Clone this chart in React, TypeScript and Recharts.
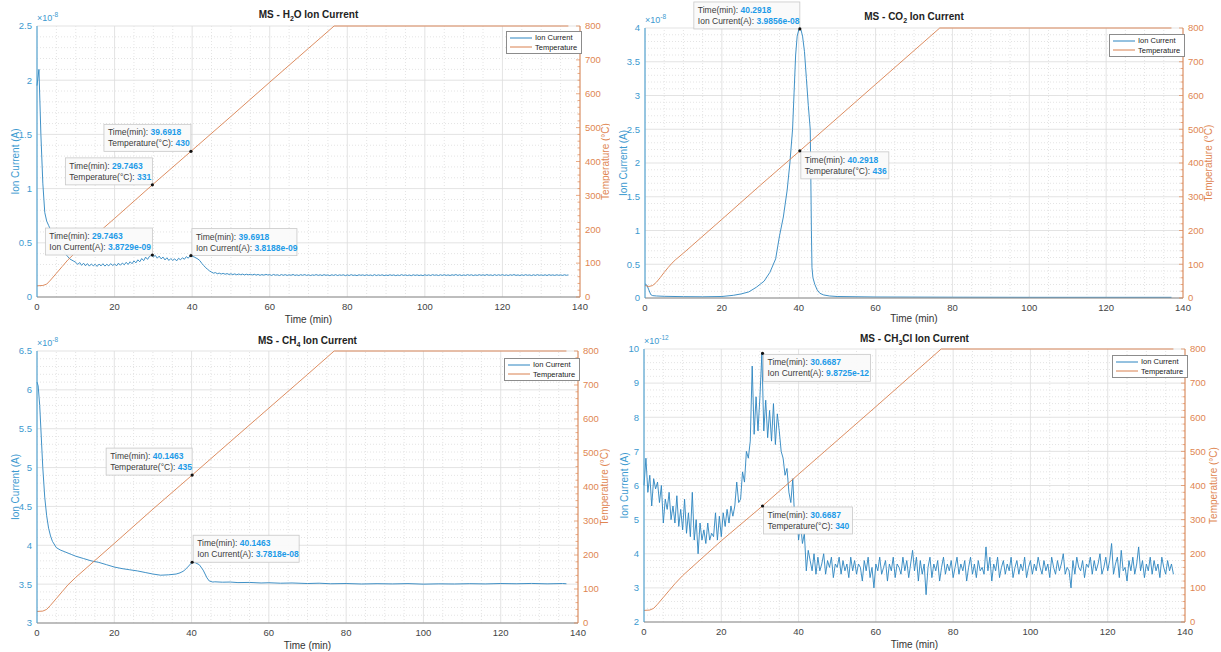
import React from 'react';
import {
  LineChart,
  Line,
  XAxis,
  YAxis,
  CartesianGrid,
  ReferenceLine,
  ReferenceDot,
  Legend,
} from 'recharts';

const FONT = 'Arial, "Liberation Sans", Helvetica, sans-serif';
const BLUE_LINE = '#2b84c0';
const BLUE_AXIS = '#3d9ad0';
const ORANGE_LINE = '#d9804f';
const ORANGE_AXIS = '#e08652';
const TIP_BLUE = '#1d9be8';

// shared axes
const TIME_TICKS = [0, 20, 40, 60, 80, 100, 120, 140];
const TEMP_TICKS = [0, 100, 200, 300, 400, 500, 600, 700, 800];

// ion current sampled every 0.5 min (H2O in 1e-8 A, CH3Cl in 1e-12 A)
const SAMPLE_STEP = 0.5;

const H2O_ION = [
  1.95, 2.1, 1.5, 1.05, 0.78, 0.7, 0.66, 0.62, 0.58, 0.55,
  0.5, 0.48, 0.46, 0.44, 0.42, 0.39, 0.37, 0.35, 0.34, 0.33,
  0.32, 0.3, 0.318, 0.292, 0.312, 0.288, 0.308, 0.285, 0.305, 0.288,
  0.302, 0.282, 0.304, 0.287, 0.307, 0.285, 0.302, 0.287, 0.308, 0.29,
  0.305, 0.287, 0.312, 0.293, 0.313, 0.297, 0.32, 0.3, 0.325, 0.307,
  0.333, 0.315, 0.343, 0.325, 0.355, 0.335, 0.368, 0.347, 0.375, 0.385,
  0.37, 0.384, 0.358, 0.377, 0.352, 0.368, 0.342, 0.362, 0.337, 0.355,
  0.338, 0.352, 0.333, 0.357, 0.343, 0.362, 0.348, 0.372, 0.358, 0.382,
  0.375, 0.37, 0.36, 0.35, 0.335, 0.31, 0.29, 0.27, 0.255, 0.24,
  0.23, 0.22, 0.225, 0.215, 0.22, 0.212, 0.218, 0.21, 0.216, 0.208,
  0.214, 0.207, 0.213, 0.205, 0.212, 0.206, 0.211, 0.204, 0.21, 0.205,
  0.209, 0.203, 0.21, 0.202, 0.208, 0.2, 0.207, 0.201, 0.209, 0.203,
  0.206, 0.199, 0.208, 0.201, 0.205, 0.198, 0.207, 0.2, 0.206, 0.199,
  0.205, 0.2, 0.208, 0.199, 0.204, 0.198, 0.206, 0.2, 0.207, 0.199,
  0.205, 0.198, 0.204, 0.2, 0.207, 0.199, 0.205, 0.198, 0.206, 0.2,
  0.204, 0.197, 0.205, 0.199, 0.206, 0.198, 0.204, 0.2, 0.205, 0.197,
  0.204, 0.198, 0.206, 0.199, 0.203, 0.197, 0.205, 0.2, 0.204, 0.198,
  0.205, 0.199, 0.203, 0.197, 0.206, 0.198, 0.204, 0.199, 0.205, 0.197,
  0.203, 0.198, 0.205, 0.199, 0.204, 0.197, 0.203, 0.198, 0.206, 0.199,
  0.204, 0.198, 0.203, 0.197, 0.205, 0.199, 0.204, 0.198, 0.203, 0.197,
  0.205, 0.199, 0.204, 0.198, 0.206, 0.2, 0.204, 0.198, 0.205, 0.199,
  0.206, 0.199, 0.204, 0.198, 0.205, 0.2, 0.207, 0.199, 0.205, 0.198,
  0.204, 0.199, 0.206, 0.2, 0.205, 0.198, 0.204, 0.199, 0.206, 0.2,
  0.205, 0.199, 0.207, 0.2, 0.204, 0.198, 0.206, 0.199, 0.205, 0.2,
  0.206, 0.199, 0.204, 0.198, 0.205, 0.2, 0.207, 0.199, 0.204, 0.198,
  0.205, 0.199, 0.206, 0.2, 0.204, 0.198, 0.205, 0.199, 0.206, 0.2,
  0.204, 0.199, 0.205, 0.198, 0.206, 0.2, 0.204, 0.199, 0.205, 0.2,
  0.204, 0.199, 0.205, 0.2, 0.204,
];

const CH3CL_ION = [
  6.0, 6.8, 5.8, 6.3, 5.4, 6.2, 5.9, 6.1, 5.5, 6.0,
  4.9, 5.6, 5.3, 5.8, 5.0, 5.4, 4.9, 5.7, 4.8, 5.3,
  4.7, 5.6, 4.6, 5.2, 4.5, 5.8, 4.4, 5.0, 4.0, 4.9,
  4.4, 4.7, 4.3, 4.9, 4.4, 4.6, 4.5, 5.2, 4.4, 5.1,
  4.5, 5.2, 4.8, 5.3, 4.9, 5.4, 5.1, 5.4, 6.1, 5.5,
  5.6, 6.4, 6.1, 7.0, 6.8, 7.3, 9.5, 7.5, 8.6, 7.6,
  8.6, 9.87, 7.6, 8.5, 7.4, 8.2, 7.3, 8.4, 7.2, 8.1,
  7.6, 7.0, 6.8, 6.3, 6.5, 5.8, 5.5, 6.2, 5.0, 5.3,
  4.4, 4.9, 4.3, 4.6, 3.5, 4.1, 3.8, 3.5, 4.0, 3.4,
  3.9, 3.5, 3.7, 4.0, 3.4, 3.8, 3.6, 3.9, 3.3, 3.7,
  3.6, 3.9, 3.4, 3.8, 3.5, 3.7, 3.3, 3.9, 3.5, 3.8,
  3.4, 3.7, 3.6, 3.2, 3.8, 3.5, 3.9, 3.3, 3.6, 3.0,
  3.7, 3.5, 3.9, 3.4, 3.6, 3.8, 3.2, 3.7, 3.5, 3.9,
  3.3, 3.7, 3.6, 3.4, 3.9, 3.5, 3.8, 3.3, 3.7, 4.1,
  3.5, 3.9, 3.2, 3.8, 3.4, 3.7, 2.8, 3.6, 3.9, 3.3,
  3.7, 3.5, 3.8, 3.2, 3.6, 3.9, 3.4, 3.7, 3.5, 3.8,
  3.3, 3.6, 3.9, 3.4, 3.7, 3.5, 3.8, 3.2, 3.6, 3.9,
  3.4, 3.7, 3.3, 3.8, 3.5, 3.6, 3.4, 4.2, 3.5, 3.9,
  3.2, 3.7, 3.5, 3.9, 3.3, 3.6, 3.8, 3.4, 3.7, 3.5,
  3.9, 3.3, 3.6, 3.8, 3.4, 3.7, 3.5, 3.9, 3.3, 3.6,
  3.8, 3.4, 3.7, 3.5, 3.9, 3.6, 3.4, 3.8, 3.5, 3.7,
  3.3, 3.9, 3.6, 3.4, 3.8, 3.5, 3.7, 4.0, 3.4, 3.6,
  3.5, 3.0, 3.8, 3.4, 3.9, 3.6, 3.5, 3.8, 3.3, 3.7,
  3.6, 3.9, 3.4, 3.8, 3.5, 3.7, 4.0, 3.4, 3.6, 3.9,
  3.5, 3.8, 4.3, 3.4, 3.7, 3.9, 3.3, 4.1, 3.5, 3.6,
  3.2, 3.8, 3.5, 3.9, 3.4, 3.7, 4.2, 3.5, 3.8, 3.3,
  3.7, 3.5, 3.9, 3.4, 3.8, 3.5, 3.7, 3.3, 3.9, 3.6,
  3.4, 3.8, 3.5, 3.7, 3.4,
];

// smooth series as [time, value] (CO2 and CH4 in 1e-8 A)
const CO2_ION = [
  [0, 0.21], [0.5, 0.19], [1, 0.12], [1.5, 0.05], [2, 0.035], [3, 0.03], [5, 0.025],
  [10, 0.02], [15, 0.018], [20, 0.022], [23, 0.04], [25, 0.06], [27, 0.09], [29, 0.16],
  [31, 0.25], [32.5, 0.38], [34, 0.58], [35, 0.92], [36, 1.2], [37, 1.6], [37.7, 2.0],
  [38.4, 2.5], [38.8, 3.05], [39.2, 3.6], [39.6, 3.88], [40, 3.97], [40.2918, 3.9856],
  [40.6, 3.97], [41, 3.88], [41.5, 3.65], [42, 3.25], [42.5, 2.85], [43, 2.5], [43.15, 1.8],
  [43.3, 1.0], [43.45, 0.45], [43.7, 0.3], [44.2, 0.2], [44.8, 0.12], [45.5, 0.07],
  [46.5, 0.045], [48, 0.03], [50, 0.022], [60, 0.015], [80, 0.012], [100, 0.01],
  [120, 0.01], [137, 0.01],
];

const CH4_ION = [
  [0, 6.1], [0.3, 6.05], [0.7, 5.8], [1, 5.5], [1.5, 5.0], [2, 4.62], [2.5, 4.38],
  [3, 4.22], [3.5, 4.12], [4, 4.05], [5, 3.97], [6, 3.94], [7, 3.92], [8, 3.9], [9, 3.88],
  [10, 3.86], [12, 3.83], [14, 3.8], [16, 3.78], [18, 3.75], [20, 3.72], [22, 3.7],
  [24, 3.685], [26, 3.67], [28, 3.65], [30, 3.63], [32, 3.615], [34, 3.62], [36, 3.63],
  [37, 3.645], [38, 3.67], [39, 3.72], [40.1463, 3.7818], [41, 3.775], [42, 3.75],
  [43, 3.68], [44, 3.58], [44.6, 3.54], [45.5, 3.527], [46, 3.53], [48, 3.525],
  [50, 3.527], [52, 3.52], [55, 3.522], [58, 3.515], [60, 3.518], [63, 3.512], [66, 3.515],
  [70, 3.508], [73, 3.512], [76, 3.505], [80, 3.508], [84, 3.502], [88, 3.506],
  [92, 3.503], [96, 3.507], [100, 3.5], [104, 3.504], [108, 3.502], [112, 3.506],
  [116, 3.503], [120, 3.508], [124, 3.505], [128, 3.509], [132, 3.504], [136, 3.508],
  [137, 3.505],
];

// temperature (°C) as [time, value]
const H2O_TEMP = [
  [0, 33], [1.5, 34], [2.5, 38], [3.5, 50], [5, 70], [6.5, 90], [8, 110], [10, 132],
  [20, 232], [29.7463, 331], [39.6918, 430], [50, 533], [60, 634], [70, 734],
  [76.6, 800], [137, 800],
];
const CO2_TEMP = [
  [0, 37], [1, 34], [2, 37], [3, 47], [4, 61], [5, 76], [6, 90], [7, 103], [8, 114],
  [10, 133], [20, 233], [30, 334], [40.2918, 436], [50, 533], [60, 633], [70, 733],
  [76.7, 800], [137, 800],
];
const CH4_TEMP = [
  [0, 34], [1.5, 35], [2.5, 40], [3.5, 52], [5, 72], [6.5, 92], [8, 112], [10, 134],
  [20, 234], [30, 335], [40.1463, 435], [50, 533], [60, 632], [70, 731], [76.9, 800],
  [137, 800],
];
const CH3CL_TEMP = [
  [0, 34], [1.5, 35], [2.5, 40], [3.5, 52], [5, 72], [6.5, 92], [8, 112], [10, 136],
  [20, 238], [30.6687, 340], [40, 433], [50, 532], [60, 631], [70, 731], [76.9, 800],
  [137, 800],
];

// data tips
const H2O_TIPS = [
  { t: 39.6918, v: 430, axis: 'temp', label: 'Temperature(°C)', time: '39.6918', text: '430' },
  { t: 29.7463, v: 331, axis: 'temp', label: 'Temperature(°C)', time: '29.7463', text: '331' },
  { t: 29.7463, v: 0.38729, axis: 'ion', label: 'Ion Current(A)', time: '29.7463', text: '3.8729e-09' },
  { t: 39.6918, v: 0.38188, axis: 'ion', label: 'Ion Current(A)', time: '39.6918', text: '3.8188e-09' },
];
const CO2_TIPS = [
  { t: 40.2918, v: 3.9856, axis: 'ion', label: 'Ion Current(A)', time: '40.2918', text: '3.9856e-08' },
  { t: 40.2918, v: 436, axis: 'temp', label: 'Temperature(°C)', time: '40.2918', text: '436' },
];
const CH4_TIPS = [
  { t: 40.1463, v: 435, axis: 'temp', label: 'Temperature(°C)', time: '40.1463', text: '435' },
  { t: 40.1463, v: 3.7818, axis: 'ion', label: 'Ion Current(A)', time: '40.1463', text: '3.7818e-08' },
];
const CH3CL_TIPS = [
  { t: 30.6687, v: 9.8725, axis: 'ion', label: 'Ion Current(A)', time: '30.6687', text: '9.8725e-12' },
  { t: 30.6687, v: 340, axis: 'temp', label: 'Temperature(°C)', time: '30.6687', text: '340' },
];

// minor tick values between majors
const minorTicks = (lo: number, hi: number, step: number, major: number) => {
  const out: number[] = [];
  const n = Math.round((hi - lo) / step);
  for (let i = 1; i < n; i++) {
    const v = +(lo + i * step).toFixed(4);
    const r = (v - lo) / major;
    if (Math.abs(r - Math.round(r)) > 1e-6) out.push(v);
  }
  return out;
};
const allTicks = (major: number[], minor: number[]) => [...major, ...minor].sort((a, b) => a - b);

const TIME_MINOR = minorTicks(0, 140, 5, 20);
const TIME_ALL = allTicks(TIME_TICKS, TIME_MINOR);
const TEMP_ALL = allTicks(TEMP_TICKS, minorTicks(0, 800, 20, 100));

const fromSamples = (vals: number[]) => vals.map((v, i) => ({ t: i * SAMPLE_STEP, v }));
const fromPairs = (pairs: number[][]) => pairs.map(([t, v]) => ({ t, v }));

const PANELS = [
  {
    key: 'h2o', x: 0, y: 0,
    plot: { l: 37, r: 580, t: 26, b: 297 },
    title: ['MS - H', '2', 'O Ion Current'], titleY: 17.5,
    exponent: '-8',
    ion: fromSamples(H2O_ION), temp: fromPairs(H2O_TEMP),
    ionDomain: [0, 2.5], ionTicks: [0, 0.5, 1, 1.5, 2, 2.5], ionMinor: minorTicks(0, 2.5, 0.1, 0.5),
    tips: H2O_TIPS,
    tipLayout: [{ side: 'ul', w: 87 }, { side: 'ul', w: 87 }, { side: 'ul', w: 107 }, { side: 'ur', w: 105 }],
    ionLabelX: 15, tempLabelOff: 5, xLabelOff: 3,
    legend: { left: 506, top: 31 },
  },
  {
    key: 'co2', x: 610, y: 0,
    plot: { l: 35, r: 573, t: 28, b: 298 },
    title: ['MS - CO', '2', ' Ion Current'], titleY: 20,
    exponent: '-8',
    ion: fromPairs(CO2_ION), temp: fromPairs(CO2_TEMP),
    ionDomain: [0, 4], ionTicks: [0, 0.5, 1, 1.5, 2, 2.5, 3, 3.5, 4], ionMinor: minorTicks(0, 4, 0.1, 0.5),
    tips: CO2_TIPS,
    tipLayout: [{ side: 'ul', w: 106 }, { side: 'lr', w: 88 }],
    ionLabelX: 13, tempLabelOff: 12, xLabelOff: 4,
    legend: { left: 499, top: 34 },
  },
  {
    key: 'ch4', x: 0, y: 326,
    plot: { l: 37, r: 578, t: 25, b: 297 },
    title: ['MS - CH', '4', ' Ion Current'], titleY: 18,
    exponent: '-8',
    ion: fromPairs(CH4_ION), temp: fromPairs(CH4_TEMP),
    ionDomain: [3, 6.5], ionTicks: [3, 3.5, 4, 4.5, 5, 5.5, 6, 6.5], ionMinor: minorTicks(3, 6.5, 0.1, 0.5),
    tips: CH4_TIPS,
    tipLayout: [{ side: 'ul', w: 86 }, { side: 'ur', w: 106 }],
    ionLabelX: 15.5, tempLabelOff: 6, xLabelOff: 3,
    legend: { left: 504, top: 32 },
  },
  {
    key: 'ch3cl', x: 610, y: 326,
    plot: { l: 34, r: 575, t: 23, b: 296 },
    title: ['MS - CH', '3', 'Cl Ion Current'], titleY: 16,
    exponent: '-12',
    ion: fromSamples(CH3CL_ION), temp: fromPairs(CH3CL_TEMP),
    ionDomain: [2, 10], ionTicks: [2, 3, 4, 5, 6, 7, 8, 9, 10], ionMinor: minorTicks(2, 10, 0.2, 1),
    tips: CH3CL_TIPS,
    tipLayout: [{ side: 'lr', w: 107 }, { side: 'lr', w: 89 }],
    ionLabelX: 14, tempLabelOff: 7, xLabelOff: 4,
    legend: { left: 502, top: 29 },
  },
];

const W = 610;
const H = 326;

function makeTip(tip: any, layout: any) {
  return (props: any) => {
    const { cx, cy } = props;
    if (cx == null || cy == null) return null;
    const h = 27;
    const bx = layout.side.endsWith('l') ? cx - layout.w : cx + 1;
    const by = layout.side.startsWith('u') ? cy - h : cy + 1;
    return (
      <g>
        <rect x={bx} y={by} width={layout.w} height={h} fill="#fafafa" fillOpacity={0.94} stroke="#c8c8c8" strokeWidth={0.8} />
        <text x={bx + 4} y={by + 11} fontSize={8.5} fill="#3a3a3a" fontFamily={FONT}>
          {'Time(min): '}
          <tspan fill={TIP_BLUE} fontWeight="bold">{tip.time}</tspan>
        </text>
        <text x={bx + 4} y={by + 22} fontSize={8.5} fill="#3a3a3a" fontFamily={FONT}>
          {tip.label + ': '}
          <tspan fill={TIP_BLUE} fontWeight="bold">{tip.text}</tspan>
        </text>
        <circle cx={cx} cy={cy} r={1.6} fill="#111" />
      </g>
    );
  };
}

// inward tick marks (MATLAB style) on top and bottom edges
const timeMarks = (top: number, bottom: number) => (props: any) => {
  const { x, payload } = props;
  const len = TIME_TICKS.includes(payload.value) ? 4 : 2.5;
  return (
    <g>
      <line x1={x} x2={x} y1={top} y2={top + len} stroke="#555" strokeWidth={0.7} />
      <line x1={x} x2={x} y1={bottom} y2={bottom - len} stroke="#555" strokeWidth={0.7} />
    </g>
  );
};

const ionMarks = (left: number, majors: number[]) => (props: any) => {
  const { y, payload } = props;
  const len = majors.includes(payload.value) ? 4 : 2.5;
  return <line x1={left} x2={left + len} y1={y} y2={y} stroke={BLUE_AXIS} strokeWidth={0.7} />;
};

const tempTick = (right: number) => (props: any) => {
  const { x, y, payload } = props;
  const major = TEMP_TICKS.includes(payload.value);
  const len = major ? 4 : 2.5;
  return (
    <g>
      <line x1={right} x2={right - len} y1={y} y2={y} stroke={ORANGE_AXIS} strokeWidth={0.7} />
      {major && (
        <text x={x} y={y} dy="0.355em" textAnchor="start" fill={ORANGE_AXIS} fontSize={9.5} fontFamily={FONT}>
          {payload.value}
        </text>
      )}
    </g>
  );
};

const renderLegend = (props: any) => {
  const { payload = [] } = props;
  return (
    <div
      style={{
        border: '1px solid #8c8c8c',
        background: '#fff',
        padding: '1px 4px 1px 3px',
        fontFamily: FONT,
        fontSize: 7.5,
        lineHeight: '9.5px',
        color: '#222',
        whiteSpace: 'nowrap',
      }}
    >
      {payload.map((item: any) => (
        <div key={item.value} style={{ display: 'flex', alignItems: 'center' }}>
          <svg width={22} height={6} style={{ marginRight: 3 }}>
            <line x1={0} y1={3} x2={22} y2={3} stroke={item.color} strokeWidth={1} />
          </svg>
          <span>{item.value}</span>
        </div>
      ))}
    </div>
  );
};

function Panel({ p }: { p: any }) {
  const { l, r, t, b } = p.plot;
  const ionAll = allTicks(p.ionTicks, p.ionMinor);
  return (
    <div style={{ position: 'absolute', left: p.x, top: p.y, width: W, height: H }}>
      <LineChart width={W} height={H} margin={{ top: t, right: 0, bottom: 0, left: 0 }}>
        <XAxis
          xAxisId={0}
          type="number"
          dataKey="t"
          domain={[0, 140]}
          ticks={TIME_TICKS}
          height={H - b}
          tickSize={3}
          tickMargin={3.5}
          tickLine={false}
          axisLine={{ stroke: '#8a8a8a' }}
          tick={{ fill: '#444', fontSize: 9.5, fontFamily: FONT }}
          label={{ value: 'Time (min)', position: 'insideBottom', offset: p.xLabelOff, fill: '#333', fontSize: 10, fontFamily: FONT }}
        />
        <XAxis
          xAxisId="top"
          orientation="top"
          type="number"
          dataKey="t"
          domain={[0, 140]}
          ticks={TIME_ALL}
          interval={0}
          height={0}
          tickLine={false}
          tick={timeMarks(t, b)}
          axisLine={{ stroke: '#8a8a8a' }}
        />
        <YAxis
          yAxisId="ion"
          orientation="left"
          type="number"
          domain={p.ionDomain}
          ticks={p.ionTicks}
          width={l}
          tickSize={3}
          tickMargin={2}
          tickLine={false}
          axisLine={{ stroke: BLUE_AXIS }}
          tick={{ fill: BLUE_AXIS, fontSize: 9.5, fontFamily: FONT }}
          label={{
            value: 'Ion Current (A)',
            angle: -90,
            position: 'insideLeft',
            offset: p.ionLabelX,
            fill: BLUE_AXIS,
            fontSize: 10,
            fontFamily: FONT,
            style: { textAnchor: 'middle' },
          }}
        />
        <YAxis
          yAxisId="ionMarks"
          orientation="left"
          type="number"
          domain={p.ionDomain}
          ticks={ionAll}
          interval={0}
          width={0}
          axisLine={false}
          tickLine={false}
          tick={ionMarks(l, p.ionTicks)}
        />
        <YAxis
          yAxisId="temp"
          orientation="right"
          type="number"
          domain={[0, 800]}
          ticks={TEMP_ALL}
          interval={0}
          width={W - r}
          tickSize={3}
          tickMargin={2}
          tickLine={false}
          axisLine={{ stroke: ORANGE_AXIS }}
          tick={tempTick(r)}
          label={{
            value: 'Temperature (°C)',
            angle: -90,
            position: 'insideRight',
            offset: p.tempLabelOff,
            fill: ORANGE_AXIS,
            fontSize: 10,
            fontFamily: FONT,
            style: { textAnchor: 'middle' },
          }}
        />
        {TIME_MINOR.map((v) => (
          <ReferenceLine key={'mx' + v} x={v} yAxisId="ion" stroke="#e4e4e4" strokeDasharray="1 2" />
        ))}
        {p.ionMinor.map((v: number) => (
          <ReferenceLine key={'my' + v} y={v} yAxisId="ion" stroke="#e4e4e4" strokeDasharray="1 2" />
        ))}
        <CartesianGrid yAxisId="ion" stroke="#dcdcdc" strokeWidth={0.8} />
        <Line
          yAxisId="ion"
          data={p.ion}
          dataKey="v"
          name="Ion Current"
          stroke={BLUE_LINE}
          strokeWidth={0.9}
          dot={false}
          isAnimationActive={false}
        />
        <Line
          yAxisId="temp"
          data={p.temp}
          dataKey="v"
          name="Temperature"
          stroke={ORANGE_LINE}
          strokeWidth={0.9}
          dot={false}
          isAnimationActive={false}
        />
        {p.tips.map((tip: any, i: number) => (
          <ReferenceDot
            key={'tip' + i}
            x={tip.t}
            y={tip.v}
            yAxisId={tip.axis}
            r={1.6}
            shape={makeTip(tip, p.tipLayout[i])}
          />
        ))}
        <text x={(l + r) / 2} y={p.titleY} textAnchor="middle" fontFamily={FONT} fontWeight="bold" fontSize={10} fill="#222">
          {p.title[0]}
          <tspan dy={3} fontSize={7}>{p.title[1]}</tspan>
          <tspan dy={-3}>{p.title[2]}</tspan>
        </text>
        <text x={l} y={t - 5} fontFamily={FONT} fontSize={9} fill={BLUE_AXIS}>
          {'×10'}
          <tspan dy={-4} fontSize={6.5}>{p.exponent}</tspan>
        </text>
        <Legend
          layout="vertical"
          align="center"
          verticalAlign="middle"
          content={renderLegend}
          wrapperStyle={{ left: p.legend.left, top: p.legend.top, width: 'auto' }}
        />
      </LineChart>
    </div>
  );
}

export default function App() {
  return (
    <div style={{ position: 'absolute', left: 0, top: 0, width: 1221, height: 652, background: '#fff' }}>
      {PANELS.map((p) => (
        <Panel key={p.key} p={p} />
      ))}
    </div>
  );
}
